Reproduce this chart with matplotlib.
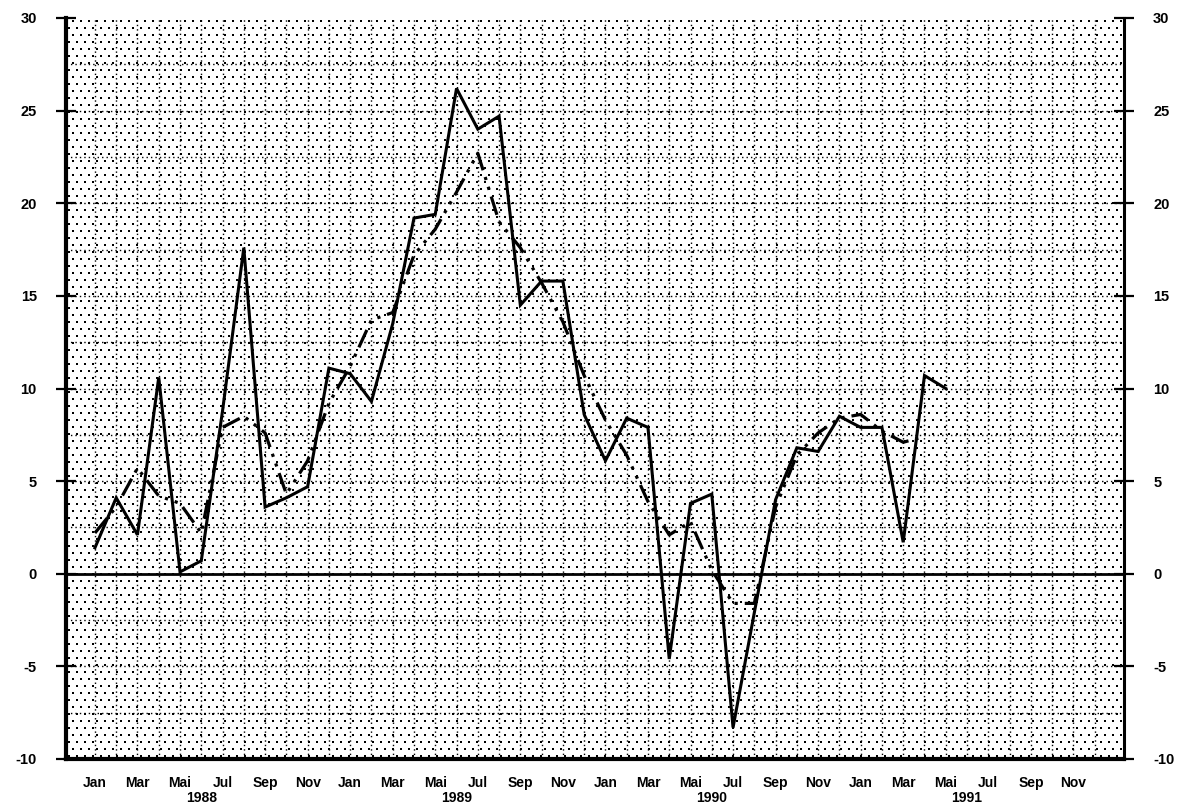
import matplotlib
matplotlib.use("Agg")
import matplotlib.pyplot as plt
import matplotlib.transforms as mtransforms
import numpy as np

# ---------------- data ----------------
month_names = ["Jan", "Feb", "Mar", "Apr", "Mai", "Jun",
               "Jul", "Aug", "Sep", "Okt", "Nov", "Dez"]
years = ["1988", "1989", "1990", "1991"]

# monthly values from Jan 1988 to Mai 1991 (solid line)
solid_values = [1.4, 4.1, 2.1, 10.6, 0.1, 0.7, 8.8, 17.6, 3.6, 4.1, 4.7, 11.1,
                10.8, 9.3, 13.5, 19.2, 19.4, 26.2, 24.0, 24.7, 14.5, 15.8, 15.8, 8.6,
                6.1, 8.4, 7.9, -4.6, 3.8, 4.3, -8.3, -2.1, 4.0, 6.8, 6.6, 8.5,
                7.9, 7.9, 1.7, 10.7, 10.0]

# smoothed series from Jan 1988 to Apr 1991 (dash-dot-dot line)
smooth_values = [2.2, 3.6, 5.7, 4.2, 3.8, 2.2, 7.9, 8.5, 7.6, 4.3, 6.1, 9.2,
                 11.2, 13.7, 14.1, 17.2, 18.6, 20.6, 22.7, 19.0, 17.6, 15.7, 13.6, 10.7,
                 8.3, 6.4, 3.9, 2.1, 2.8, 0.2, -1.6, -1.6, 3.6, 6.4, 7.6, 8.4,
                 8.6, 7.7, 7.1, 7.4]

y_ticks = [-10, -5, 0, 5, 10, 15, 20, 25, 30]

# ---------------- style ----------------
plt.rcParams['font.family'] = ['Liberation Sans', 'DejaVu Sans']
plt.rcParams['axes.unicode_minus'] = False

W, H = 1183, 806
fig = plt.figure(figsize=(W / 100, H / 100), dpi=100)
fig.patch.set_facecolor('white')
L, R, T, B = 66, 1124, 18, 759
ax = fig.add_axes([L / W, 1 - B / H, (R - L) / W, (B - T) / H])

n_months = len(years) * 12
ax.set_xlim(-1.36, 48.38)
ax.set_ylim(-10, 30)

# stippled background (staggered dot screen)
pw, ph = R - L, B - T
pitch_x, pitch_y = 8.0, 7.0
rows = np.arange(3, ph, pitch_y)
dx, dy = [], []
for r_i, yy in enumerate(rows):
    off = 0.0 if r_i % 2 == 0 else pitch_x / 2
    xs = np.arange(3 + off, pw - 1, pitch_x)
    dx.extend(xs / pw)
    dy.extend([yy / ph] * len(xs))
ax.scatter(dx, dy, s=1.0, marker='s', color='black', linewidths=0,
           transform=ax.transAxes, zorder=0.5)

# dotted grid
dot = (0, (1, 2.2))
for i in range(n_months):
    ax.axvline(i, color='black', lw=1.0, ls=dot, zorder=1)
for yv in np.arange(-7.5, 30, 2.5):
    if abs(yv) > 1e-9:
        ax.axhline(yv, color='black', lw=1.0, ls=dot, zorder=1)

ax.axhline(0, color='black', lw=2.0, zorder=3)

x_solid = np.arange(len(solid_values))
x_smooth = np.arange(len(smooth_values))
ax.plot(x_smooth, smooth_values, color='black', lw=2.3,
        dashes=(6, 2.2, 1, 2.2, 1, 2.2), zorder=4)
ax.plot(x_solid, solid_values, color='black', lw=2.2, zorder=5,
        solid_joinstyle='miter')

# spines
ax.spines['top'].set_visible(False)
ax.spines['left'].set_linewidth(3)
ax.spines['bottom'].set_linewidth(3)
ax.spines['right'].set_linewidth(2.2)

# y axis ticks both sides
ax.set_yticks(y_ticks)
ax.set_yticklabels([str(v) for v in y_ticks])
ax.tick_params(axis='y', which='major', left=True, right=True,
               labelleft=True, labelright=True, direction='inout',
               length=14, width=1.6, pad=14, labelsize=10.5)
for lab in ax.get_yticklabels():
    lab.set_fontweight('bold')

# x axis: month labels at odd months
xt = [i for i in range(n_months) if i % 2 == 0]
ax.set_xticks(xt)
ax.set_xticklabels([month_names[i % 12] for i in xt], fontsize=10,
                   fontweight='bold')
ax.tick_params(axis='x', length=0, pad=12)

trans = mtransforms.blended_transform_factory(ax.transData, ax.transAxes)
for k, yr in enumerate(years):
    ax.text(12 * k + 5, -(798 - B) / (B - T), yr, transform=trans,
            ha='center', va='center', fontsize=10, fontweight='bold')

fig.savefig("out.png", dpi=100)
